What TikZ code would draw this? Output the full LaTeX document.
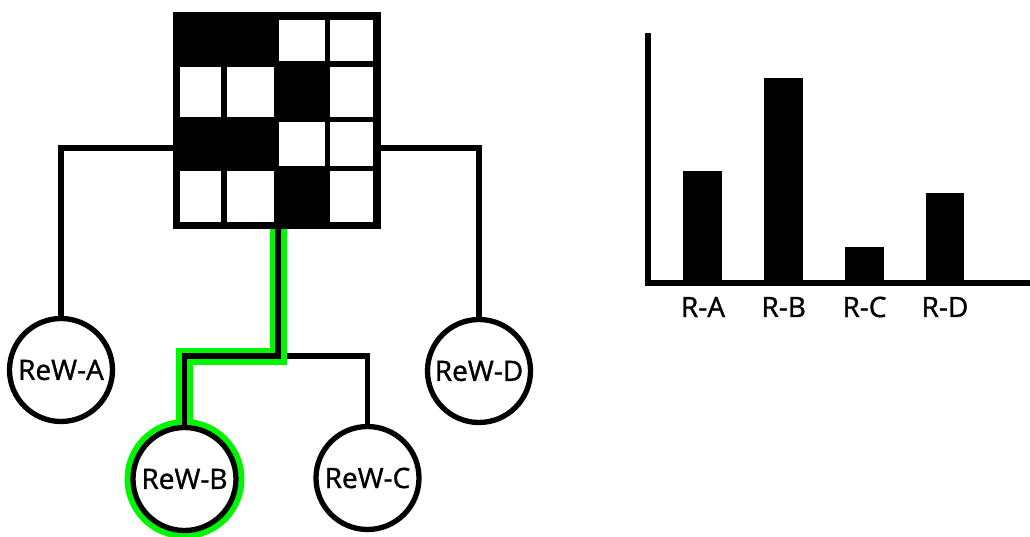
\documentclass[tikz,border=0pt]{standalone}
\usepackage{fontspec}
\setmainfont{Open Sans}
\newfontfamily\lblfont[FakeBold=1.2]{Open Sans}
\pgfdeclarelayer{bg}
\pgfsetlayers{bg,main}
\definecolor{hl}{RGB}{0,245,0}
\tikzset{
  conn/.style={draw=black, line width=5.3pt},
  hlpath/.style={draw=hl, line width=17pt},
  rew/.style={circle, draw=black, line width=5.3pt, fill=white, minimum size=103pt,
    inner sep=0pt, font=\lblfont\fontsize{28}{32}\selectfont},
  barlabel/.style={font=\lblfont\fontsize{28}{32}\selectfont, inner sep=0pt},
  cellfill/.style={fill=black},
  gridline/.style={draw=black, line width=5.5pt},
}
\begin{document}
\begin{tikzpicture}[x=1pt,y=-1pt]
\useasboundingbox (0,0) rectangle (1030,537);
% pattern box
\node[draw=black, line width=5pt, minimum width=198.3pt, minimum height=207pt,
  inner sep=0pt, anchor=north west] (grd) at (175,14.7) {};
\fill[cellfill] (175,14.7) rectangle (276.3,63.8);
\fill[cellfill] (276.3,63.8) rectangle (327.3,119.5);
\fill[cellfill] (175,119.5) rectangle (276.3,168.7);
\fill[cellfill] (276.3,168.7) rectangle (327.3,221.7);
\foreach \gx in {224,276.3,327.3} \draw[gridline] (\gx,14.7) -- (\gx,221.7);
\foreach \gy in {63.8,119.5,168.7} \draw[gridline] (175,\gy) -- (373.3,\gy);
\draw[draw=black, line width=5pt] (grd.north west) rectangle (grd.south east);
% nodes
\node[rew] (A) at (61,370) {ReW-A};
\node[rew] (B) at (184.5,479) {ReW-B};
\node[rew] (C) at (367.5,478) {ReW-C};
\node[rew] (D) at (479,371) {ReW-D};
\coordinate (j) at (278,356);
% connectors
\draw[conn] ([yshift=-27.3pt]grd.west) -| (A.north);
\draw[conn] ([yshift=-27.3pt]grd.east) -| (D.north);
\begin{pgfonlayer}{bg}
  \draw[conn] (j) -| (C.north);
  \draw[hlpath] (grd.south -| j) -- (j) -| (B.north);
  \draw[draw=hl, line width=6pt] (B.center) circle[radius=57pt];
\end{pgfonlayer}
\draw[conn] (grd.south -| j) -- (j) -| (B.north);
% bar chart
\fill[black] (683.3,283) rectangle (722.3,170.7);
\fill[black] (764,283) rectangle (803.3,78.3);
\fill[black] (845,283) rectangle (884,246.7);
\fill[black] (925.7,283) rectangle (964.3,193.3);
\draw[line width=5.5pt] (648,33) -- (648,285.7);
\draw[line width=5.5pt] (645,283) -- (1030,283);
\node[barlabel] (la) at (703,307) {R-A};
\node[barlabel] (lb) at (783.7,307) {R-B};
\node[barlabel] (lc) at (864.5,307) {R-C};
\node[barlabel] (ld) at (945,307) {R-D};
\end{tikzpicture}
\end{document}
